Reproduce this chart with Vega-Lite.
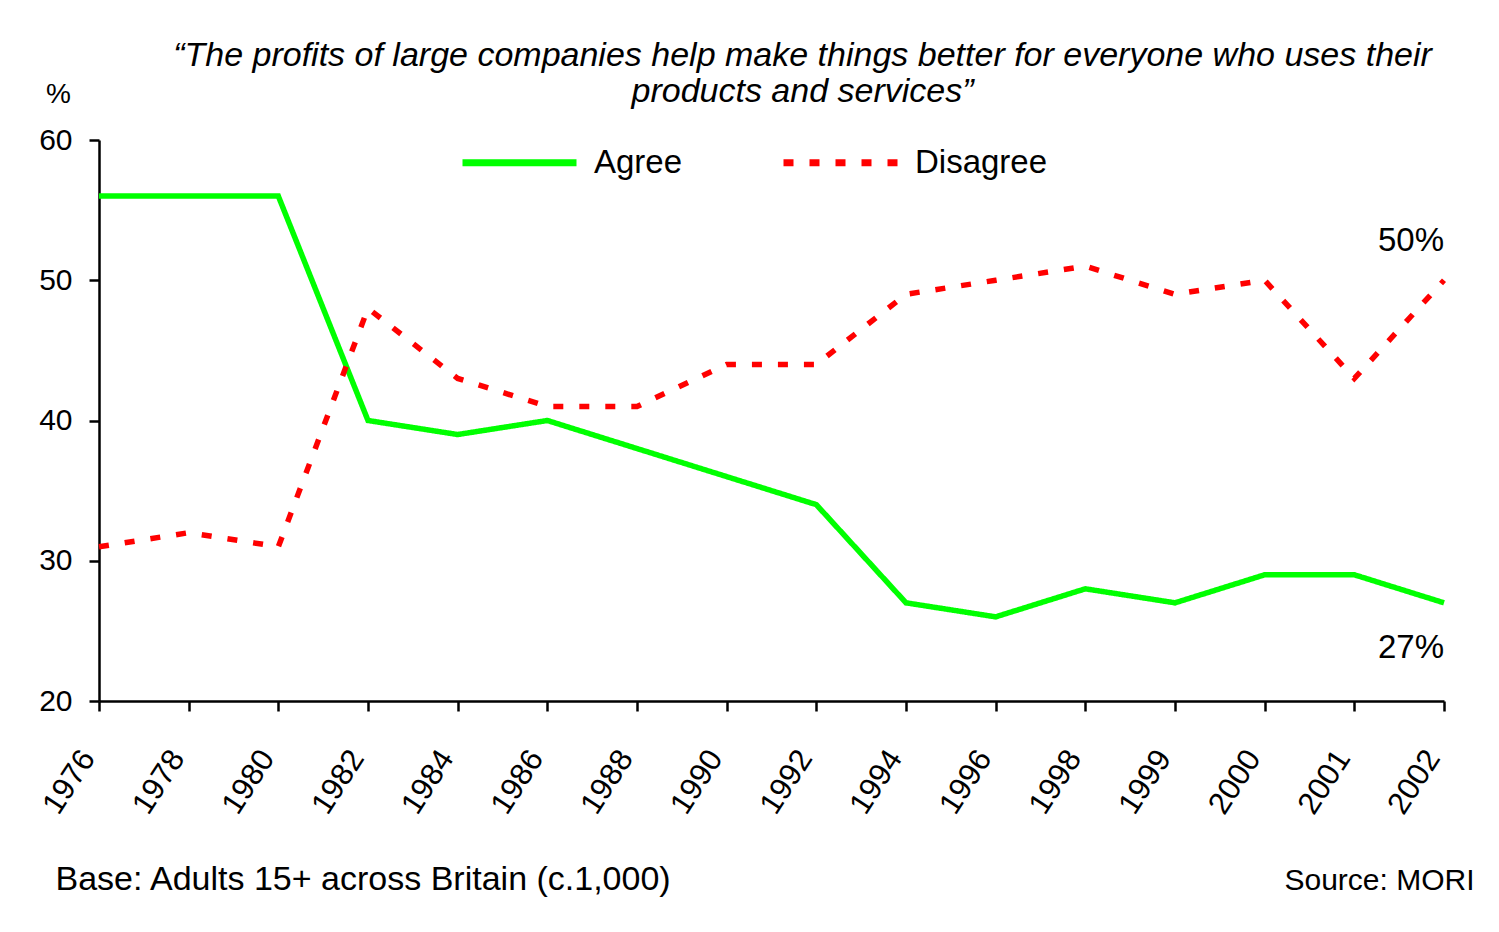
{
  "$schema": "https://vega.github.io/schema/vega-lite/v6.json",
  "width": 1345,
  "height": 561,
  "autosize": {"type": "none"},
  "padding": {"left": 99, "top": 140, "right": 55, "bottom": 231},
  "background": "white",
  "config": {
    "view": {"stroke": null},
    "font": "Liberation Sans",
    "axis": {
      "grid": false,
      "domainColor": "black",
      "tickColor": "black",
      "labelColor": "black",
      "titleColor": "black",
      "domainWidth": 2.5,
      "tickWidth": 2.5,
      "tickSize": 10,
      "labelFont": "Liberation Sans",
      "titleFont": "Liberation Sans",
      "titleFontWeight": "normal"
    }
  },
  "title": {
    "text": ["“The profits of large companies help make things better for everyone who uses their", "products and services”"],
    "font": "Liberation Sans",
    "fontStyle": "italic",
    "fontWeight": "normal",
    "fontSize": 34,
    "lineHeight": 36,
    "anchor": "middle",
    "color": "black",
    "dx": 31,
    "dy": 33
  },
  "datasets": {
    "series": [
      {"year": "1976", "series": "Agree", "value": 56},
      {"year": "1978", "series": "Agree", "value": 56},
      {"year": "1980", "series": "Agree", "value": 56},
      {"year": "1982", "series": "Agree", "value": 40},
      {"year": "1984", "series": "Agree", "value": 39},
      {"year": "1986", "series": "Agree", "value": 40},
      {"year": "1988", "series": "Agree", "value": 38},
      {"year": "1990", "series": "Agree", "value": 36},
      {"year": "1992", "series": "Agree", "value": 34},
      {"year": "1994", "series": "Agree", "value": 27},
      {"year": "1996", "series": "Agree", "value": 26},
      {"year": "1998", "series": "Agree", "value": 28},
      {"year": "1999", "series": "Agree", "value": 27},
      {"year": "2000", "series": "Agree", "value": 29},
      {"year": "2001", "series": "Agree", "value": 29},
      {"year": "2002", "series": "Agree", "value": 27},
      {"year": "1976", "series": "Disagree", "value": 31},
      {"year": "1978", "series": "Disagree", "value": 32},
      {"year": "1980", "series": "Disagree", "value": 31},
      {"year": "1982", "series": "Disagree", "value": 48},
      {"year": "1984", "series": "Disagree", "value": 43},
      {"year": "1986", "series": "Disagree", "value": 41},
      {"year": "1988", "series": "Disagree", "value": 41},
      {"year": "1990", "series": "Disagree", "value": 44},
      {"year": "1992", "series": "Disagree", "value": 44},
      {"year": "1994", "series": "Disagree", "value": 49},
      {"year": "1996", "series": "Disagree", "value": 50},
      {"year": "1998", "series": "Disagree", "value": 51},
      {"year": "1999", "series": "Disagree", "value": 49},
      {"year": "2000", "series": "Disagree", "value": 50},
      {"year": "2001", "series": "Disagree", "value": 43},
      {"year": "2002", "series": "Disagree", "value": 50}
    ],
    "notes": [
      {"year": "2002", "value": 50, "label": "50%"},
      {"year": "2002", "value": 27, "label": "27%"}
    ]
  },
  "encoding": {
    "x": {
      "field": "year",
      "type": "ordinal",
      "scale": {"type": "point", "padding": 0},
      "axis": {
        "title": "Base: Adults 15+ across Britain (c.1,000)",
        "titleAnchor": "start",
        "titleAlign": "left",
        "titleX": -44,
        "titleY": 188,
        "titleBaseline": "alphabetic",
        "titleFontSize": 34,
        "labelAngle": -57,
        "labelAlign": "right",
        "labelBaseline": "middle",
        "labelFontSize": 31,
        "labelPadding": 42,
        "labelOffset": -11,
        "labelOverlap": false,
        "labelBound": false
      }
    }
  },
  "layer": [
    {
      "data": {"name": "series"},
      "mark": {"type": "line", "strokeWidth": 5.5, "strokeCap": "butt"},
      "encoding": {
        "y": {
          "field": "value",
          "type": "quantitative",
          "scale": {"domain": [20, 60], "nice": false, "zero": false},
          "axis": {
            "values": [20, 30, 40, 50, 60],
            "title": "%",
            "titleAngle": 0,
            "titleX": -41,
            "titleY": -38,
            "titleAlign": "center",
            "titleBaseline": "alphabetic",
            "titleFontSize": 28,
            "labelFontSize": 30,
            "labelPadding": 17
          }
        },
        "color": {
          "field": "series",
          "type": "nominal",
          "scale": {"domain": ["Agree", "Disagree"], "range": ["#00ff00", "#ff0000"]},
          "legend": {
            "orient": "none",
            "legendX": 360,
            "legendY": -38,
            "direction": "horizontal",
            "columns": 2,
            "title": null,
            "symbolType": "stroke",
            "symbolSize": 12996,
            "symbolStrokeWidth": 7,
            "labelFontSize": 33,
            "labelFont": "Liberation Sans",
            "labelColor": "black",
            "labelOffset": 14,
            "labelLimit": 400,
            "columnPadding": 86
          }
        },
        "strokeDash": {
          "field": "series",
          "type": "nominal",
          "scale": {"domain": ["Agree", "Disagree"], "range": [[1, 0], [10, 16]]},
          "legend": {
            "orient": "none",
            "legendX": 360,
            "legendY": -38,
            "direction": "horizontal",
            "columns": 2,
            "title": null,
            "symbolType": "stroke",
            "symbolSize": 12996,
            "symbolStrokeWidth": 7,
            "labelFontSize": 33,
            "labelFont": "Liberation Sans",
            "labelColor": "black",
            "labelOffset": 14,
            "labelLimit": 400,
            "columnPadding": 86
          }
        }
      }
    },
    {
      "data": {"name": "notes"},
      "transform": [{"filter": "datum.label == '50%'"}],
      "mark": {"type": "text", "align": "right", "baseline": "middle", "dy": -39, "fontSize": 33, "color": "black", "font": "Liberation Sans"},
      "encoding": {
        "y": {
          "field": "value",
          "type": "quantitative",
          "axis": {
            "orient": "right",
            "labels": false,
            "ticks": false,
            "domain": false,
            "title": "Source: MORI",
            "titleAngle": 0,
            "titleAlign": "right",
            "titleX": 30,
            "titleY": 749,
            "titleBaseline": "alphabetic",
            "titleFontSize": 30
          }
        },
        "text": {"field": "label"}
      }
    },
    {
      "data": {"name": "notes"},
      "transform": [{"filter": "datum.label == '27%'"}],
      "mark": {"type": "text", "align": "right", "baseline": "middle", "dy": 45, "fontSize": 33, "color": "black", "font": "Liberation Sans"},
      "encoding": {
        "y": {"field": "value", "type": "quantitative", "axis": null},
        "text": {"field": "label"}
      }
    }
  ],
  "resolve": {"axis": {"y": "independent"}}
}
